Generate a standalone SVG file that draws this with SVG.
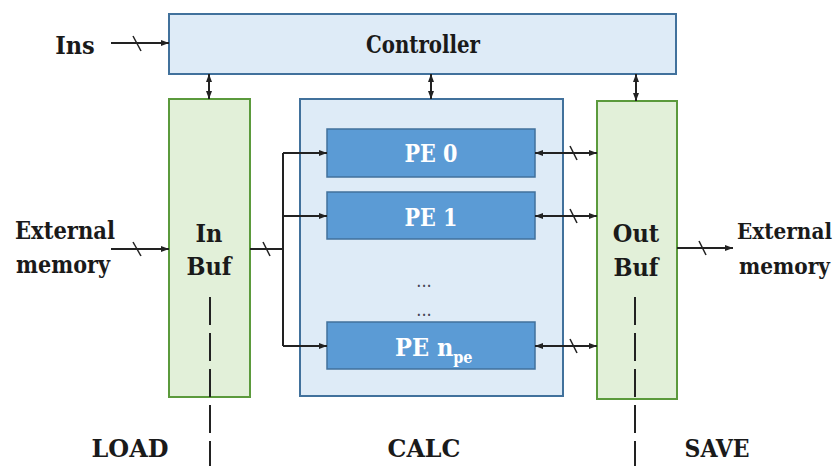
<svg xmlns="http://www.w3.org/2000/svg" width="838" height="466" viewBox="0 0 838 466">
<defs>
<style>
text{font-family:'DejaVu Serif Condensed','DejaVu Serif','Liberation Serif',serif}
.t{font-weight:bold;font-size:25px;fill:#1a1a1a}
.w{font-weight:bold;font-size:25px;fill:#ffffff}
.r{font-weight:bold;font-size:22px;fill:#1a1a1a}
.blue{fill:#deebf7;stroke:#41719c;stroke-width:2}
.green{fill:#e2f0d9;stroke:#5b9a3c;stroke-width:2}
.pe{fill:#5b9bd5;stroke:#41719c;stroke-width:1.5}
.c{stroke:#222;stroke-width:2;fill:none}
.s{stroke:#222;stroke-width:1.5;fill:none}
.d{stroke:#222;stroke-width:2;fill:none;stroke-dasharray:28 8}
</style>
<marker id="ah" markerWidth="8" markerHeight="6" refX="8" refY="3" orient="auto-start-reverse" markerUnits="userSpaceOnUse">
<path d="M0,0 L8,3 L0,6 z" fill="#222"/>
</marker>
</defs>
<rect width="838" height="466" fill="#ffffff"/>

<g id="controller">
<rect class="blue" x="169" y="14" width="507" height="60"/>
<text class="t" x="423" y="53" text-anchor="middle" textLength="114" lengthAdjust="spacingAndGlyphs">Controller</text>
</g>

<g id="inbuf">
<rect class="green" x="169" y="99" width="81" height="298"/>
<text class="t" x="209" y="242" text-anchor="middle">In</text>
<text class="t" x="209" y="275" text-anchor="middle">Buf</text>
</g>

<g id="pe-array">
<rect class="blue" x="300" y="99" width="263" height="297"/>
<text x="424" y="287" text-anchor="middle" font-size="18" fill="#445">...</text>
<text x="424" y="316" text-anchor="middle" font-size="18" fill="#445">...</text>
</g>

<g id="pe0">
<rect class="pe" x="327" y="129" width="208" height="48"/>
<text class="w" x="431" y="162" text-anchor="middle" textLength="53" lengthAdjust="spacingAndGlyphs">PE 0</text>
</g>
<g id="pe1">
<rect class="pe" x="327" y="192" width="208" height="47"/>
<text class="w" x="431" y="226" text-anchor="middle" textLength="53" lengthAdjust="spacingAndGlyphs">PE 1</text>
</g>
<g id="penpe">
<rect class="pe" x="327" y="322" width="208" height="47"/>
<text class="w" x="395" y="356">PE n<tspan font-size="16" dy="7">pe</tspan></text>
</g>

<g id="outbuf">
<rect class="green" x="597" y="101" width="80" height="298"/>
<text class="t" x="636" y="242" text-anchor="middle">Out</text>
<text class="t" x="636" y="276" text-anchor="middle">Buf</text>
</g>

<g id="labels">
<text class="t" x="75" y="54" text-anchor="middle">Ins</text>
<text class="t" x="15" y="239" textLength="100" lengthAdjust="spacingAndGlyphs">External</text>
<text class="t" x="16" y="273" textLength="94" lengthAdjust="spacingAndGlyphs">memory</text>
<text class="r" x="737" y="239" textLength="95" lengthAdjust="spacingAndGlyphs">External</text>
<text class="r" x="739" y="274" textLength="91" lengthAdjust="spacingAndGlyphs">memory</text>
<text class="t" x="130" y="457" text-anchor="middle" textLength="77" lengthAdjust="spacingAndGlyphs">LOAD</text>
<text class="t" x="424" y="457" text-anchor="middle" textLength="73" lengthAdjust="spacingAndGlyphs">CALC</text>
<text class="t" x="717" y="457" text-anchor="middle" textLength="65" lengthAdjust="spacingAndGlyphs">SAVE</text>
</g>

<g id="connectors">
<line class="c" x1="111" y1="43" x2="169" y2="43" marker-end="url(#ah)"/>
<line class="s" x1="133" y1="36" x2="141" y2="51"/>
<line class="c" x1="209" y1="74" x2="209" y2="99" marker-start="url(#ah)" marker-end="url(#ah)"/>
<line class="c" x1="431" y1="74" x2="431" y2="99" marker-start="url(#ah)" marker-end="url(#ah)"/>
<line class="c" x1="636" y1="74" x2="636" y2="101" marker-start="url(#ah)" marker-end="url(#ah)"/>
<line class="c" x1="111" y1="249" x2="169" y2="249" marker-end="url(#ah)"/>
<line class="s" x1="133" y1="242" x2="141" y2="256"/>
<line class="c" x1="250" y1="249" x2="283" y2="249"/>
<line class="s" x1="263" y1="242" x2="270" y2="256"/>
<line class="c" x1="283" y1="153" x2="283" y2="346"/>
<line class="c" x1="283" y1="153" x2="327" y2="153" marker-end="url(#ah)"/>
<line class="c" x1="283" y1="216" x2="327" y2="216" marker-end="url(#ah)"/>
<line class="c" x1="283" y1="346" x2="327" y2="346" marker-end="url(#ah)"/>
<line class="c" x1="535" y1="153" x2="597" y2="153" marker-start="url(#ah)" marker-end="url(#ah)"/>
<line class="s" x1="570" y1="146" x2="577" y2="160"/>
<line class="c" x1="535" y1="216" x2="597" y2="216" marker-start="url(#ah)" marker-end="url(#ah)"/>
<line class="s" x1="570" y1="209" x2="577" y2="223"/>
<line class="c" x1="535" y1="346" x2="597" y2="346" marker-start="url(#ah)" marker-end="url(#ah)"/>
<line class="s" x1="570" y1="339" x2="577" y2="353"/>
<line class="c" x1="677" y1="248" x2="733" y2="248" marker-end="url(#ah)"/>
<line class="s" x1="699" y1="241" x2="706" y2="255"/>
<line class="d" x1="210" y1="297" x2="210" y2="466"/>
<line class="d" x1="635" y1="297" x2="635" y2="466"/>
</g>
</svg>
